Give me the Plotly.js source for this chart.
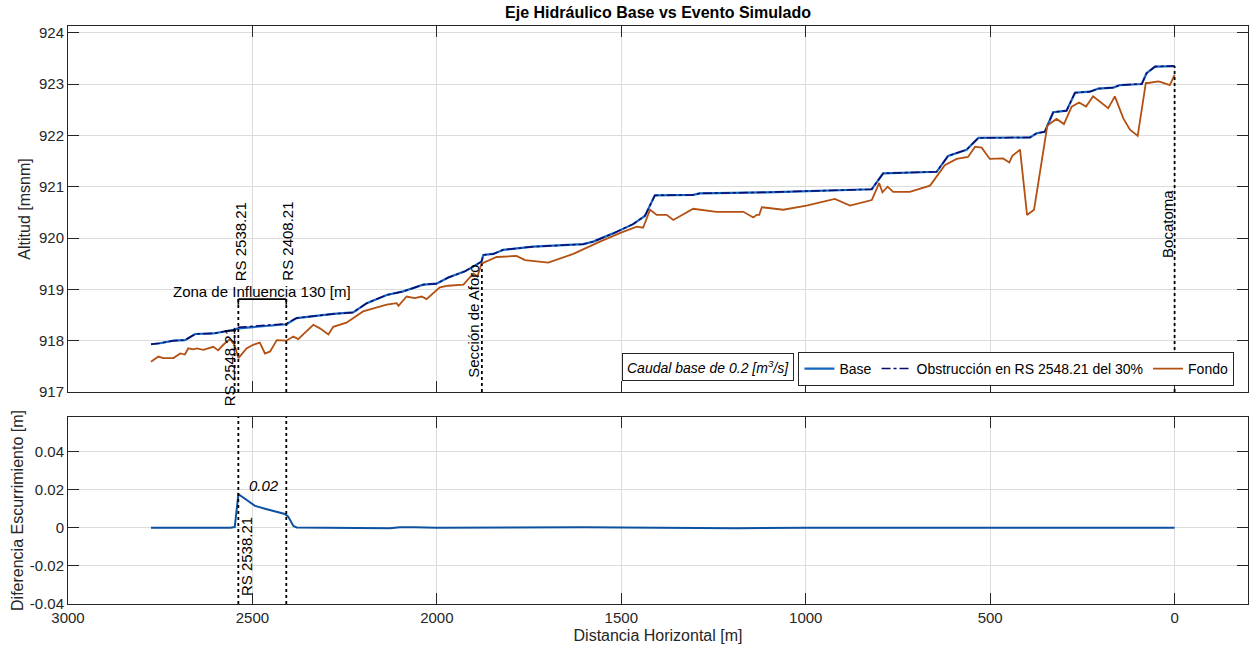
<!DOCTYPE html>
<html>
<head>
<meta charset="utf-8">
<script src="https://cdn.plot.ly/plotly-3.0.1.min.js"></script>
<style>html,body{margin:0;padding:0;background:#fff;}#chart{width:1249px;height:653px;}</style>
</head>
<body>
<div id="chart"></div>
<script>
// ---------- DATA ----------
const distBase = [2775,2751,2714,2683,2655,2606,2552,2538,2408,2380,2281,2227,2190,2136,2091,2037,2001,1969,1924,1892,1879,1874,1847,1820,1739,1603,1576,1522,1468,1436,1409,1305,1287,1106,925,880,821,790,645,614,564,532,392,374,352,329,293,270,230,207,166,148,89,76,53,0];
const wsBase = [917.93,917.95,918.00,918.01,918.13,918.14,918.21,918.24,918.32,918.44,918.52,918.55,918.73,918.89,918.96,919.09,919.11,919.23,919.35,919.48,919.54,919.67,919.69,919.77,919.83,919.88,919.93,920.09,920.27,920.43,920.83,920.84,920.87,920.89,920.92,920.93,920.95,921.26,921.29,921.60,921.72,921.95,921.96,922.04,922.07,922.45,922.48,922.83,922.85,922.91,922.93,922.98,923.00,923.21,923.34,923.35];

const distObs = [2775,2751,2714,2683,2655,2606,2552,2547,2538,2516,2493,2461,2430,2408,2389,2380,2281,2227,2190,2136,2091,2037,2001,1969,1924,1892,1879,1874,1847,1820,1739,1603,1576,1522,1468,1436,1409,1305,1287,1106,925,880,821,790,645,614,564,532,392,374,352,329,293,270,230,207,166,148,89,76,53,0];
const wsObs = [917.93,917.95,918.00,918.01,918.13,918.14,918.21,918.21,918.26,918.27,918.28,918.30,918.31,918.33,918.41,918.44,918.52,918.55,918.73,918.89,918.96,919.09,919.11,919.23,919.35,919.48,919.54,919.67,919.69,919.77,919.83,919.88,919.93,920.09,920.27,920.43,920.83,920.84,920.87,920.89,920.92,920.93,920.95,921.26,921.29,921.60,921.72,921.95,921.96,922.04,922.07,922.45,922.48,922.83,922.85,922.91,922.93,922.98,923.00,923.21,923.34,923.35];

const distBed = [2775,2755,2742,2714,2696,2683,2674,2660,2651,2633,2606,2593,2579,2561,2549,2538,2516,2498,2480,2466,2452,2434,2408,2389,2376,2335,2317,2294,2281,2245,2200,2172,2136,2109,2104,2082,2060,2041,2028,1992,1969,1928,1901,1890,1879,1838,1784,1761,1698,1630,1558,1499,1458,1441,1422,1404,1377,1359,1305,1242,1169,1142,1133,1126,1119,1061,998,921,880,821,801,792,778,763,718,663,623,591,560,541,523,501,465,448,440,419,400,381,360,345,320,300,279,259,240,221,180,162,139,121,100,78,72,44,35,13,0];
const bedElev = [917.59,917.69,917.66,917.66,917.75,917.73,917.85,917.83,917.85,917.82,917.88,917.81,917.92,918.03,917.92,917.66,917.85,917.92,917.96,917.75,917.79,918.01,918.00,918.08,918.03,918.31,918.24,918.12,918.27,918.35,918.57,918.63,918.70,918.73,918.68,918.86,918.83,918.86,918.81,919.04,919.07,919.09,919.31,919.25,919.50,919.63,919.65,919.57,919.52,919.69,919.93,920.11,920.22,920.20,920.55,920.45,920.45,920.35,920.57,920.51,920.51,920.40,920.45,920.45,920.60,920.55,920.63,920.76,920.63,920.74,921.07,920.89,921.00,920.90,920.90,921.02,921.42,921.54,921.58,921.78,921.76,921.54,921.55,921.47,921.60,921.72,920.45,920.55,921.49,922.19,922.32,922.22,922.56,922.64,922.56,922.76,922.53,922.76,922.33,922.11,921.99,923.02,923.02,923.05,923.03,922.98,923.18];

const distDiff = [2775,2650,2629,2610,2560,2548,2538,2530,2516,2493,2461,2430,2412,2403,2389,2380,2330,2300,2128,2100,2060,2000,1600,1190,1000,470,200,0];
const diffVal = [0,0,-0.0003,0,0,0.0003,0.0176,0.0165,0.0146,0.0114,0.0097,0.0079,0.0072,0.0058,0.0009,0.0001,0.0002,0,-0.0003,0.0002,0.0002,0,0.0002,-0.0003,0,-0.0002,0,0];

// reference stations (m) and labels
const rsObstr = 2548.21, rsUp1 = 2538.21, rsUp2 = 2408.21, aforoDist = 1878, bocatomaDist = 0;
const xTicks = [3000,2500,2000,1500,1000,500,0];
const yTicksTop = [917,918,919,920,921,922,923,924];
const yTicksBot = [-0.04,-0.02,0,0.02,0.04];
const yTickTextBot = ['-0.04','-0.02','0','0.02','0.04'];

// ---------- STYLE ----------
const FONT = 'Liberation Sans, Arial, Helvetica, sans-serif';
const AX = '#262626';
const GRID = '#dcdcdc';
const cBase = '#1466c0';
const cObs = '#0a0a6e';
const cBed = '#b45012';
const cDiff = '#0c52a0';

const traces = [
  {x: distBase, y: wsBase, name: 'Base', type: 'scatter', mode: 'lines', line: {color: cBase, width: 2.2}, xaxis: 'x', yaxis: 'y'},
  {x: distObs, y: wsObs, name: 'Obstrucción en RS 2548.21 del 30%', type: 'scatter', mode: 'lines', line: {color: cObs, width: 1.5, dash: 'dashdot'}, xaxis: 'x', yaxis: 'y'},
  {x: distBed, y: bedElev, name: 'Fondo', type: 'scatter', mode: 'lines', line: {color: cBed, width: 1.8}, xaxis: 'x', yaxis: 'y'},
  {x: distDiff, y: diffVal, name: 'Diferencia', type: 'scatter', mode: 'lines', line: {color: cDiff, width: 2}, xaxis: 'x2', yaxis: 'y2', showlegend: false}
];

function vline(x, y0, y1, xr, yr) {
  return {type: 'line', xref: xr, yref: yr, x0: x, x1: x, y0: y0, y1: y1, line: {color: '#000', width: 1.8, dash: 'dot'}};
}
function seg(x0, y0, x1, y1) {
  return {type: 'line', xref: 'x', yref: 'y', x0: x0, x1: x1, y0: y0, y1: y1, line: {color: '#000', width: 1.6}};
}
const shapes = [
  vline(rsObstr, 917, 918.22, 'x', 'y'),
  vline(rsUp1, 917, 918.81, 'x', 'y'),
  vline(rsUp2, 917, 918.81, 'x', 'y'),
  vline(aforoDist, 917, 919.5, 'x', 'y'),
  vline(bocatomaDist, 917, 923.35, 'x', 'y'),
  seg(rsUp1, 918.81, rsUp2, 918.81),
  seg(rsUp1, 918.81, rsUp1, 918.70),
  seg(rsUp2, 918.81, rsUp2, 918.70),
  vline(rsUp1, -0.04, 0.058, 'x2', 'y2'),
  vline(rsUp2, -0.04, 0.058, 'x2', 'y2')
];

function rot(text, x, y, yanchor, xr, yr) {
  return {text: text, x: x, y: y, xref: xr || 'x', yref: yr || 'y', textangle: -90, showarrow: false,
          xanchor: 'center', yanchor: yanchor, font: {family: FONT, size: 15, color: '#000'}};
}
const annotations = [
  rot('RS 2548.21', 2563.6, 918.31, 'top'),
  rot('RS 2538.21', 2532, 919.12, 'bottom'),
  rot('RS 2408.21', 2403.5, 919.12, 'bottom'),
  rot('Sección de Aforo', 1899, 917.23, 'bottom'),
  rot('Bocatoma', 21, 919.57, 'bottom'),
  {text: 'Zona de Influencia 130 [m]', x: 2474, y: 918.96, xref: 'x', yref: 'y', showarrow: false,
   xanchor: 'center', yanchor: 'middle', font: {family: FONT, size: 15, color: '#000'}},
  {text: '<i>Caudal base de 0.2 [m<sup>3</sup>/s]</i>', x: 1266, y: 917.49, xref: 'x', yref: 'y', showarrow: false,
   xanchor: 'center', yanchor: 'middle', bordercolor: '#262626', borderwidth: 1, borderpad: 4, bgcolor: '#fff',
   font: {family: FONT, size: 14, color: '#000'}},
  {text: '<i>0.02</i>', x: 2515, y: 0.0219, xref: 'x2', yref: 'y2', showarrow: false,
   xanchor: 'left', yanchor: 'middle', font: {family: FONT, size: 15, color: '#000'}},
  rot('RS 2538.21', 2515.5, 0.0067, 'top', 'x2', 'y2')
];

const xCommon = {range: [3000, -199], autorange: false, tickvals: xTicks, showgrid: true, gridcolor: GRID, gridwidth: 1,
  zeroline: false, showline: true, linecolor: AX, linewidth: 1, mirror: 'ticks', ticks: 'inside', ticklen: 11, tickcolor: AX, tickwidth: 1,
  tickfont: {family: FONT, size: 15, color: '#262626'}};

const layout = {
  width: 1249, height: 653,
  margin: {l: 68, r: 1, t: 26, b: 49},
  paper_bgcolor: '#fff', plot_bgcolor: '#fff',
  font: {family: FONT, color: '#262626'},
  title: {text: '<b>Eje Hidráulico Base vs Evento Simulado</b>', font: {family: FONT, size: 16, color: '#000'},
          x: 0.5, xref: 'paper', y: 1, yref: 'container', yanchor: 'top', pad: {t: 7}},
  xaxis: Object.assign({}, xCommon, {anchor: 'y', showticklabels: false}),
  xaxis2: Object.assign({}, xCommon, {anchor: 'y2', showticklabels: true,
          title: {text: 'Distancia Horizontal [m]', font: {family: FONT, size: 16, color: '#262626'}, standoff: 4}}),
  yaxis: {domain: [0.3668, 1], range: [917, 924.13], autorange: false, tickvals: yTicksTop, showgrid: true, gridcolor: GRID,
          zeroline: false, showline: true, linecolor: AX, mirror: 'ticks', ticks: 'inside', ticklen: 11, tickcolor: AX,
          tickfont: {family: FONT, size: 15, color: '#262626'},
          title: {text: 'Altitud [msnm]', font: {family: FONT, size: 16, color: '#262626'}, standoff: 4}},
  yaxis2: {domain: [0, 0.3235], range: [-0.04, 0.058], autorange: false, tickvals: yTicksBot, ticktext: yTickTextBot, showgrid: true, gridcolor: GRID,
          zeroline: false, showline: true, linecolor: AX, mirror: 'ticks', ticks: 'inside', ticklen: 11, tickcolor: AX,
          tickfont: {family: FONT, size: 15, color: '#262626'},
          title: {text: 'Diferencia Escurrimiento [m]', font: {family: FONT, size: 16, color: '#262626'}, standoff: 2}},
  legend: {orientation: 'h', x: 0.9885, xanchor: 'right', y: 0.436, yanchor: 'top', bgcolor: '#fff',
           bordercolor: '#262626', borderwidth: 1, font: {family: FONT, size: 14, color: '#000'},
           itemwidth: 30, tracegroupgap: 0},
  shapes: shapes,
  annotations: annotations,
  showlegend: true
};

Plotly.newPlot('chart', traces, layout, {displayModeBar: false, staticPlot: true});
</script>
</body>
</html>
